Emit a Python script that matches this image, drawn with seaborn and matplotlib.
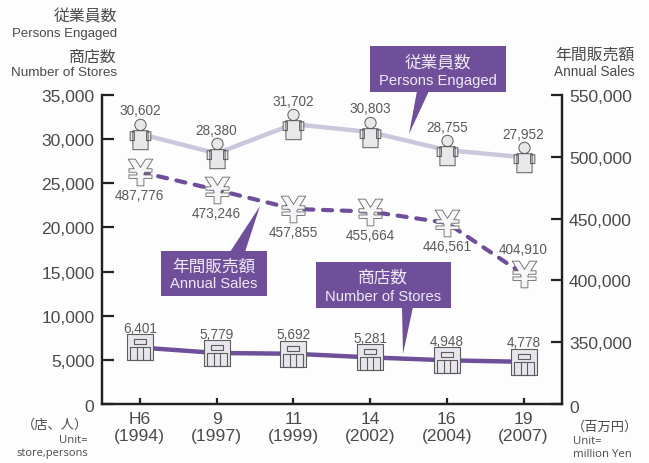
import numpy as np
import pandas as pd
import matplotlib
matplotlib.use('Agg')
import matplotlib.pyplot as plt
import seaborn as sns
from matplotlib.font_manager import FontProperties
from matplotlib.patches import Polygon
from matplotlib.path import Path
from matplotlib.textpath import TextPath
from matplotlib.transforms import Affine2D

era_labels = ["H6\n(1994)", "9\n(1997)", "11\n(1999)", "14\n(2002)", "16\n(2004)", "19\n(2007)"]
persons = [30602, 28380, 31702, 30803, 28755, 27952]
sales = [487776, 473246, 457855, 455664, 446561, 404910]
stores = [6401, 5779, 5692, 5281, 4948, 4778]
left_ticks = [0, 5000, 10000, 15000, 20000, 25000, 30000, 35000]
right_ticks = [300000, 350000, 400000, 450000, 500000, 550000]

TEXT = '#4a4a4a'
PURPLE = '#6f4f9a'
W, H = 649, 464

sns.set_style('white')
plt.rcParams['font.family'] = ['Liberation Sans', 'Noto Sans CJK JP']

df = pd.DataFrame({'pos': np.arange(len(era_labels)), 'persons': persons, 'sales': sales, 'stores': stores})


def box(x0, y0, x1, y1):
    return Path([(x0, y0), (x1, y0), (x1, y1), (x0, y1), (x0, y0)], closed=True)


def person_marker():
    head = Path.circle((0, 0.63), 0.37)
    parts = [box(-0.68, -0.4, -0.4, 0.18), box(0.4, -0.4, 0.68, 0.18), box(-0.5, -1, 0.5, 0.25), head]
    return Path.make_compound_path(*parts)


def store_marker():
    parts = [box(-1, -1, 1, 1), box(-0.5, 0.2, 0.5, 0.6), box(-0.75, -1, 0.75, 0.02),
             box(-0.25, -1, -0.22, 0.02), box(0.22, -1, 0.25, 0.02)]
    return Path.make_compound_path(*parts)


def yen_marker():
    p = TextPath((0, 0), '\u00a5', size=1, prop=FontProperties(family='DejaVu Sans', weight='bold'))
    ext = p.get_extents()
    return p.transformed(Affine2D().translate(-(ext.x0 + ext.x1) / 2, -(ext.y0 + ext.y1) / 2))


fig = plt.figure(figsize=(W / 100, H / 100), dpi=100, facecolor='#fdfdfd')
ax = fig.add_axes([101.5 / W, 1 - 405 / H, 460.5 / W, 309 / H])
ax.patch.set_alpha(0)

sns.lineplot(data=df, x='pos', y='persons', color='#cbc7dd', lw=3.2, errorbar=None, ax=ax)
sns.lineplot(data=df, x='pos', y='stores', color=PURPLE, lw=3.2, errorbar=None, ax=ax)
sns.scatterplot(data=df, x='pos', y='persons', marker=person_marker(), s=480, color='#e8e7ea',
                edgecolor='#5c5c5c', linewidth=0.7, ax=ax, zorder=5)
sns.scatterplot(data=df, x='pos', y='stores', marker=store_marker(), s=340, color='#e8e5ec',
                edgecolor='#5c5c5c', linewidth=0.8, ax=ax, zorder=5)

ax2 = ax.twinx()
ax2.patch.set_alpha(0)
sns.lineplot(data=df, x='pos', y='sales', color=PURPLE, lw=3, errorbar=None, ax=ax2,
             linestyle=(0, (2.2, 2.3)), dash_capstyle='round')
sns.scatterplot(data=df, x='pos', y='sales', marker=yen_marker(), s=370, color='#f6f5f7',
                edgecolor='#666666', linewidth=0.6, ax=ax2, zorder=5)

ax.set_xlim(-0.5, 5.5)
ax.set_ylim(0, 35000)
ax2.set_ylim(300000, 550000)
ax.set_xlabel('')
ax.set_ylabel('')
ax2.set_xlabel('')
ax2.set_ylabel('')

ax.set_xticks(df.pos, era_labels)
ax.set_yticks(left_ticks, [''] + [f'{v:,}' for v in left_ticks[1:]])
ax2.set_yticks(right_ticks, [''] + [f'{v:,}' for v in right_ticks[1:]])
ax.tick_params(axis='y', direction='in', length=8.5, width=1.6, color='#222222', labelsize=12.6,
               labelcolor=TEXT, pad=5, left=True)
ax.tick_params(axis='x', direction='in', length=4.5, width=1.6, color='#222222', labelsize=12.6,
               labelcolor=TEXT, pad=5, bottom=True)
ax2.tick_params(axis='y', direction='in', length=8, width=1.6, color='#222222', labelsize=12.6,
                labelcolor=TEXT, pad=5, right=True)
for a in (ax, ax2):
    a.spines['top'].set_visible(False)
    for s in ('left', 'right', 'bottom'):
        a.spines[s].set_color('#222222')
        a.spines[s].set_linewidth(1.6)

# value labels, offset from each point in pixels
label_args = dict(textcoords='offset points', ha='center', va='center', fontsize=9.8, color='#5a5a5a', zorder=6)
for i, v in enumerate(persons):
    ax.annotate(f'{v:,}', (i, v), xytext=(0, 17), **label_args)
sales_off = [-16.5, -17, -16.5, -17, -16.5, 18.5]
for i, v in enumerate(sales):
    ax2.annotate(f'{v:,}', (i, v), xytext=(0, sales_off[i]), **label_args)
for i, v in enumerate(stores):
    ax.annotate(f'{v:,}', (i, v), xytext=(0, 14), **label_args)

# everything below is placed in picture pixels, y downwards
px = Affine2D().scale(1, -1).translate(0, H)


def ptext(x, y, s, ha='center', size=10, color=TEXT, **kw):
    fig.text(x, y, s, transform=px, ha=ha, va='center', fontsize=size, color=color, **kw)


def callout(x0, y0, x1, y1, pointer, jp, en, cx, jp_y, en_y):
    pts = [(x0, y0), (x1, y0), (x1, y1), (x0, y1)]
    fig.add_artist(Polygon(pts, closed=True, transform=px, fc=PURPLE, ec='none', zorder=8))
    fig.add_artist(Polygon(pointer, closed=True, transform=px, fc=PURPLE, ec='none', zorder=8))
    ptext(cx, jp_y, jp, size=12, color='#efeaf5', zorder=9)
    ptext(cx, en_y, en, size=10.6, color='#efeaf5', zorder=9)


callout(370, 47, 506, 93, [(417, 92), (429, 92), (409, 135)], '従業員数', 'Persons Engaged', 438, 62, 81)
callout(161, 252, 267, 297, [(230, 253), (245, 253), (260, 207)], '年間販売額', 'Annual Sales', 214, 267, 284)
callout(316, 263, 451, 309, [(402, 308), (413, 308), (403, 355)], '商店数', 'Number of Stores', 383, 278, 297)

ptext(117, 17, '従業員数', ha='right', size=11.4)
ptext(117, 34, 'Persons Engaged', ha='right', size=9.5)
ptext(117, 57, '商店数', ha='right', size=11.4)
ptext(117, 73, 'Number of Stores', ha='right', size=9.7)
ptext(635, 55, '年間販売額', ha='right', size=11.4)
ptext(635, 72, 'Annual Sales', ha='right', size=9.8)

ptext(89, 408, '0', size=12.6)
ptext(574, 409, '0', size=12.6)

ptext(55, 425, '（店、人）', size=9.5, family=['Noto Sans CJK JP'])
ptext(88, 441, 'Unit=', ha='right', size=8.2, family=['Open Sans'])
ptext(88, 454, 'store,persons', ha='right', size=8, family=['Open Sans'])
ptext(605, 427, '（百万円）', size=9.5, family=['Noto Sans CJK JP'])
ptext(573, 442, 'Unit=', ha='left', size=8.2, family=['Open Sans'])
ptext(573, 455, 'million Yen', ha='left', size=8.2, family=['Open Sans'])

fig.savefig('out.png', dpi=100, facecolor=fig.get_facecolor())
